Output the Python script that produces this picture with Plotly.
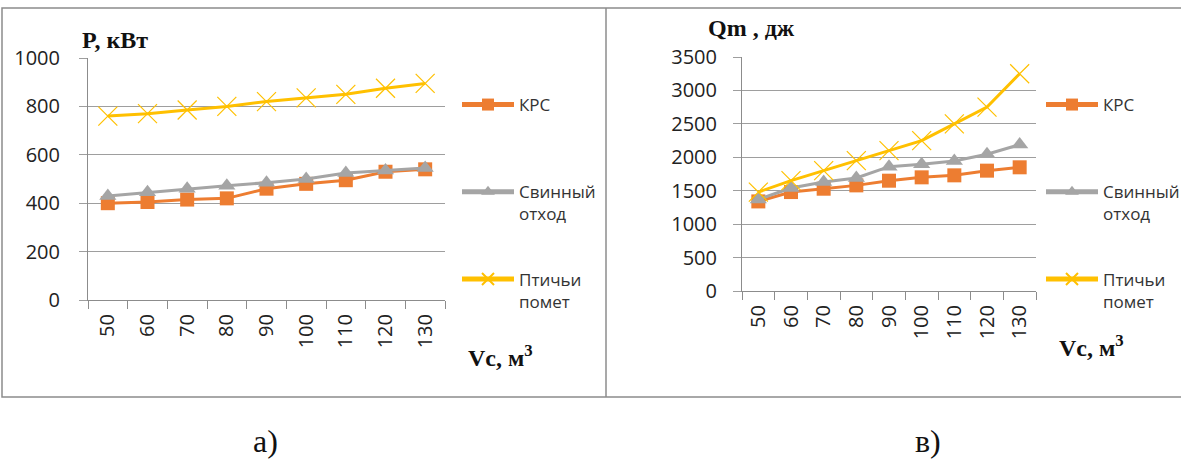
import plotly.graph_objects as go

# ---- data ----
categories = ["50", "60", "70", "80", "90", "100", "110", "120", "130"]
P_krs = [400, 405, 415, 420, 460, 480, 495, 530, 540]
P_svin = [430, 445, 460, 472, 485, 500, 525, 535, 545]
P_ptich = [760, 770, 785, 800, 820, 835, 850, 875, 895]
Q_krs = [1340, 1480, 1530, 1580, 1650, 1700, 1730, 1800, 1850]
Q_svin = [1370, 1540, 1630, 1690, 1860, 1895, 1945, 2045, 2190]
Q_ptich = [1480, 1650, 1800, 1950, 2100, 2250, 2500, 2750, 3250]
series_names = ["КРС", "Свинный<br>отход", "Птичьи<br>помет"]
y_ticks_P = [0, 200, 400, 600, 800, 1000]
y_ticks_Q = [0, 500, 1000, 1500, 2000, 2500, 3000, 3500]

W, H = 1181, 463
def px(x): return x / W
def py(y): return 1 - y / H

colors = ["#ED7D31", "#A5A5A5", "#FFC000"]
symbols = ["square", "triangle-up", "x-thin"]
sizes = [14, 15, 19]

fig = go.Figure()

def add_series(vals, xa, ya, leg, names):
    for i, v in enumerate(vals):
        mk = dict(symbol=symbols[i], size=sizes[i], color=colors[i])
        if symbols[i] == "x-thin":
            mk["line"] = dict(color=colors[i], width=1.2)
        fig.add_trace(go.Scatter(
            x=categories, y=v, name=names[i] if i else names[i] + "<br>\u00a0",
            mode="lines+markers", line=dict(color=colors[i], width=3),
            marker=mk, xaxis=xa, yaxis=ya, legend=leg, legendgroup=leg + str(i),
        ))

add_series([P_krs, P_svin, P_ptich], "x", "y", "legend", series_names)
add_series([Q_krs, Q_svin, Q_ptich], "x2", "y2", "legend2", series_names)

tick_font = dict(family="Open Sans", size=20, color="#222222")
grid_c = "#9e9e9e"
axis_c = "#8c8c8c"

xcommon = dict(type="category", range=[-0.5, 8.5], tickangle=-90, ticks="outside",
               ticklen=8, tickcolor=axis_c, tickson="boundaries", showline=True,
               linecolor=axis_c, linewidth=1, showgrid=False, tickfont=tick_font,
               ticklabelstandoff=5, fixedrange=True)
ycommon = dict(showgrid=True, gridcolor=grid_c, gridwidth=1, ticks="outside",
               ticklen=8, tickcolor=grid_c, showline=True, linecolor=axis_c,
               linewidth=1, zeroline=False, tickfont=tick_font, fixedrange=True)

legend_common = dict(font=dict(family="Open Sans", size=17, color="#333333"),
                     valign="top", tracegroupgap=40, itemsizing="constant",
                     itemwidth=52,
                     bgcolor="rgba(0,0,0,0)", xanchor="left", yanchor="top")

fig.update_layout(
    width=W, height=H, margin=dict(l=0, r=0, t=0, b=0, autoexpand=False),
    paper_bgcolor="white", plot_bgcolor="white", showlegend=True,
    xaxis=dict(domain=[px(88), px(445)], anchor="y", **xcommon),
    yaxis=dict(domain=[py(300), py(58)], anchor="x", range=[0, 1000],
               tickvals=y_ticks_P, ticklabelstandoff=15, **ycommon),
    xaxis2=dict(domain=[px(742), px(1036)], anchor="y2", **xcommon),
    yaxis2=dict(domain=[py(291), py(57)], anchor="x2", range=[0, 3500],
                tickvals=y_ticks_Q, ticklabelstandoff=12, **ycommon),
    legend=dict(x=px(457), y=py(87), **legend_common),
    legend2=dict(x=px(1041), y=py(87), **legend_common),
)

title_font = dict(family="Liberation Serif", size=24, color="#111111")
fig.add_annotation(text="<b>P, кВт</b>", x=px(80), y=py(40), xref="paper", yref="paper",
                   xanchor="left", yanchor="middle", showarrow=False, font=title_font)
fig.add_annotation(text="<b>Qm , дж</b>", x=px(706), y=py(28), xref="paper", yref="paper",
                   xanchor="left", yanchor="middle", showarrow=False, font=title_font)
vc_font = dict(family="Liberation Serif", size=24, color="#111111")
fig.add_annotation(text="<b>Vc, м<sup>3</sup></b>", x=px(466), y=py(356), xref="paper", yref="paper",
                   xanchor="left", yanchor="middle", showarrow=False, font=vc_font)
fig.add_annotation(text="<b>Vc, м<sup>3</sup></b>", x=px(1057), y=py(346), xref="paper", yref="paper",
                   xanchor="left", yanchor="middle", showarrow=False, font=vc_font)
lab_font = dict(family="Liberation Serif", size=32, color="#111111")
fig.add_annotation(text="а)", x=px(265), y=py(441), xref="paper", yref="paper",
                   xanchor="center", yanchor="middle", showarrow=False, font=lab_font)
fig.add_annotation(text="в)", x=px(928), y=py(441), xref="paper", yref="paper",
                   xanchor="center", yanchor="middle", showarrow=False, font=lab_font)

# frames
fig.add_shape(type="rect", xref="paper", yref="paper", x0=px(2), x1=px(1195),
              y0=py(397), y1=py(8), line=dict(color="#8c8c8c", width=1.5))
fig.add_shape(type="line", xref="paper", yref="paper", x0=px(606), x1=px(606),
              y0=py(397), y1=py(8), line=dict(color="#8c8c8c", width=1.5))

fig.write_html("out.html", config={"displayModeBar": False},
               post_script="document.body.style.margin='0';")
